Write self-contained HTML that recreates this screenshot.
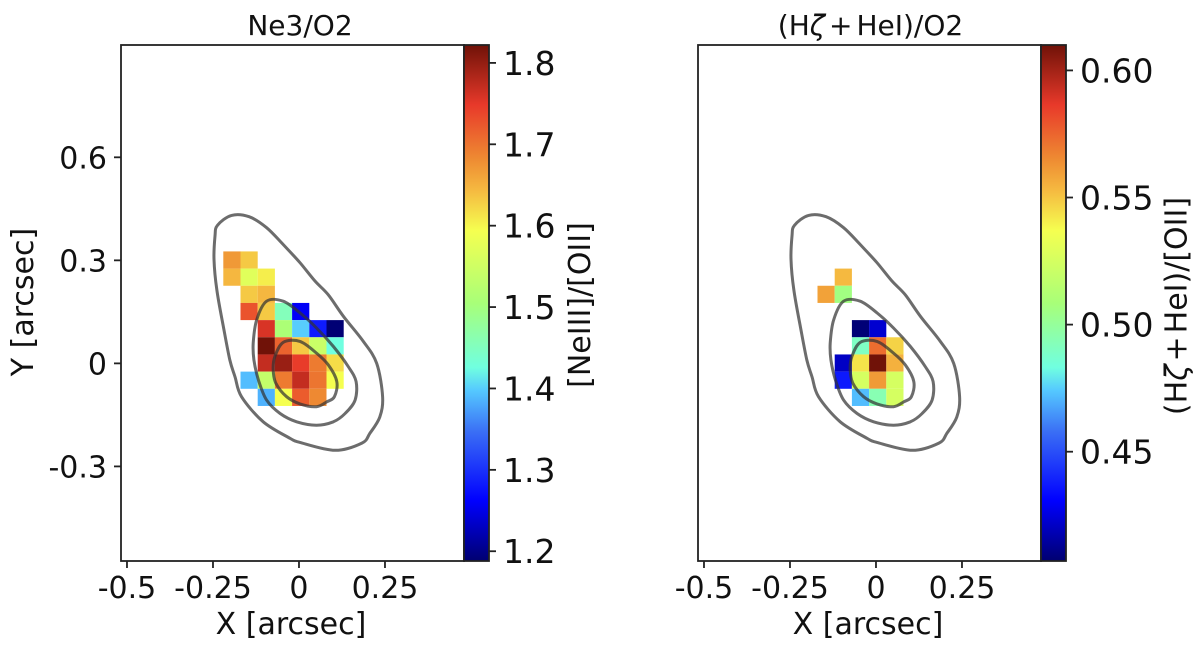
<!DOCTYPE html>
<html lang="en">
<head>
<meta charset="utf-8">
<title>Ne3/O2 and (Hζ+HeI)/O2 maps</title>
<style>
html,body{margin:0;padding:0;background:#fff;width:1200px;height:649px;overflow:hidden}
svg{display:block}
text{font-family:"DejaVu Sans","Liberation Sans",sans-serif;fill:#111}
</style>
</head>
<body>
<svg id="chart" xmlns="http://www.w3.org/2000/svg" width="1200" height="649" viewBox="0 0 1200 649"></svg>
<script>
const xTicks = [-0.5, -0.25, 0, 0.25];
const xTickLabels = ['-0.5', '-0.25', '0', '0.25'];
const yTicks = [0.6, 0.3, 0, -0.3];
const yTickLabels = ['0.6', '0.3', '0', '-0.3'];
const neTicks = [1.2, 1.3, 1.4, 1.5, 1.6, 1.7, 1.8];
const neTickLabels = ['1.2', '1.3', '1.4', '1.5', '1.6', '1.7', '1.8'];
const hzTicks = [0.45, 0.50, 0.55, 0.60];
const hzTickLabels = ['0.45', '0.50', '0.55', '0.60'];
const xBinEdges = [-0.22, -0.17, -0.12, -0.07, -0.02, 0.03, 0.08, 0.13];
const yBinEdges = [0.326, 0.276, 0.226, 0.176, 0.126, 0.076, 0.026, -0.024, -0.074, -0.124];
const n = null;
const ne3Values = [
  [1.67, 1.632, n, n, n, n, n],
  [1.645, 1.57, 1.606, n, n, n, n],
  [n, 1.632, 1.645, n, n, n, n],
  [n, 1.727, 1.632, 1.454, 1.258, n, n],
  [n, n, 1.758, 1.51, 1.40, 1.283, 1.19],
  [n, n, 1.822, 1.714, 1.632, 1.543, 1.426],
  [n, n, 1.771, 1.797, 1.746, 1.695, 1.619],
  [n, 1.391, 1.537, 1.695, 1.771, 1.70, 1.594],
  [n, n, 1.385, 1.594, 1.72, 1.683, n]
];
const hzetaValues = [
  [n, n, n, n, n, n, n],
  [n, n, 0.553, n, n, n, n],
  [n, 0.559, 0.506, n, n, n, n],
  [n, n, n, n, n, n, n],
  [n, n, n, 0.408, 0.423, n, n],
  [n, n, n, 0.490, 0.573, 0.547, n],
  [n, n, 0.421, 0.543, 0.61, 0.555, n],
  [n, n, 0.437, 0.525, 0.561, 0.525, n],
  [n, n, n, 0.472, 0.494, 0.525, n]
];
const contourOuterX = [-0.237,-0.196,-0.145,-0.094,-0.046,0.003,0.047,0.085,0.129,0.187,0.226,0.243,0.235,0.206,0.183,0.105,0.003,-0.026,-0.104,-0.167,-0.186,-0.201,-0.220,-0.239,-0.247,-0.244];
const contourOuterY = [0.402,0.431,0.427,0.395,0.346,0.293,0.239,0.200,0.137,0.064,0.000,-0.097,-0.156,-0.204,-0.232,-0.253,-0.230,-0.218,-0.170,-0.097,-0.039,0.010,0.108,0.215,0.303,0.371];
const contourMiddleX = [-0.094,-0.046,0.003,0.051,0.100,0.143,0.166,0.163,0.134,0.100,0.051,-0.007,-0.055,-0.094,-0.118,-0.131,-0.133,-0.123];
const contourMiddleY = [0.181,0.181,0.147,0.103,0.049,-0.009,-0.053,-0.107,-0.146,-0.170,-0.180,-0.170,-0.146,-0.107,-0.048,0.010,0.059,0.127];
const contourInnerX = [-0.046,0.003,0.051,0.085,0.110,0.103,0.081,0.051,0.003,-0.036,-0.067,-0.075,-0.070];
const contourInnerY = [0.061,0.064,0.030,-0.004,-0.053,-0.097,-0.112,-0.126,-0.118,-0.097,-0.058,-0.019,0.020];
const colorStopPos = [0, 0.117, 0.25, 0.33, 0.375, 0.5, 0.64, 0.72, 0.78, 0.884, 1];
const colorStopHex = ['#000070', '#0000ff', '#3a6ef5', '#55c8ff', '#70ffe0', '#a8ff78', '#f5ff50', '#f5b840', '#ee8a32', '#e8392a', '#701208'];

const NS = 'http://www.w3.org/2000/svg';
const svg = document.getElementById('chart');
const defs = document.createElementNS(NS, 'defs');
svg.appendChild(defs);

function make(tag, attrs, parent) {
  const el = document.createElementNS(NS, tag);
  for (const k in attrs) el.setAttribute(k, attrs[k]);
  parent.appendChild(el);
  return el;
}
function hexRgb(h) {
  return [1, 3, 5].map(i => parseInt(h.substr(i, 2), 16));
}
function colormap(t) {
  t = Math.max(0, Math.min(1, t));
  for (let i = 1; i < colorStopPos.length; i++) {
    if (t <= colorStopPos[i]) {
      const f = (t - colorStopPos[i - 1]) / (colorStopPos[i] - colorStopPos[i - 1]);
      const a = hexRgb(colorStopHex[i - 1]);
      const b = hexRgb(colorStopHex[i]);
      return 'rgb(' + a.map((v, j) => Math.round(v + (b[j] - v) * f)).join(',') + ')';
    }
  }
  return colorStopHex[colorStopHex.length - 1];
}
function linear(d0, d1, r0, r1) {
  return v => r0 + (v - d0) * (r1 - r0) / (d1 - d0);
}
function smoothClosedPath(px, py) {
  const m = px.length;
  let d = 'M' + px[0].toFixed(1) + ' ' + py[0].toFixed(1);
  for (let i = 0; i < m; i++) {
    const p0 = (i - 1 + m) % m, p1 = i, p2 = (i + 1) % m, p3 = (i + 2) % m;
    const c1x = px[p1] + (px[p2] - px[p0]) / 6;
    const c1y = py[p1] + (py[p2] - py[p0]) / 6;
    const c2x = px[p2] - (px[p3] - px[p1]) / 6;
    const c2y = py[p2] - (py[p3] - py[p1]) / 6;
    d += 'C' + c1x.toFixed(1) + ' ' + c1y.toFixed(1) + ' ' + c2x.toFixed(1) + ' ' + c2y.toFixed(1) + ' ' + px[p2].toFixed(1) + ' ' + py[p2].toFixed(1);
  }
  return d + 'Z';
}

const TOP = 45, BOTTOM = 561, AXW = 343, CBW = 25;
const INK = '#222';

function drawPanel(cfg) {
  const g = make('g', {}, svg);
  
  
  const L = cfg.left, R = L + AXW;
  const xs = linear(-0.5174, 0.4797, L, R);
  const ys = linear(-0.5754, 0.927, BOTTOM, TOP);
  const cs = linear(cfg.vmin, cfg.vmax, BOTTOM, TOP);

  const cells = make('g', {}, g);
  
  
  cfg.values.forEach((row, r) => {
    row.forEach((v, c) => {
      if (v === null) return;
      const x0 = xs(xBinEdges[c]);
      const x1 = xs(xBinEdges[c + 1]);
      const y0 = ys(yBinEdges[r]);
      const y1 = ys(yBinEdges[r + 1]);
      const cell = make('rect', {x: x0, y: y0, width: x1 - x0, height: y1 - y0, fill: colormap((v - cfg.vmin) / (cfg.vmax - cfg.vmin))}, cells);
      
      
    });
  });

  const contours = make('g', {}, g);
  
  
  [[contourOuterX, contourOuterY], [contourMiddleX, contourMiddleY], [contourInnerX, contourInnerY]].forEach(pair => {
    const d = smoothClosedPath(pair[0].map(xs), pair[1].map(ys));
    const path = make('path', {d: d, fill: 'none', stroke: '#333', 'stroke-opacity': 0.72, 'stroke-width': 3, 'stroke-linejoin': 'round'}, contours);
    
    
  });

  const frame = make('rect', {x: L, y: TOP, width: AXW, height: BOTTOM - TOP, fill: 'none', stroke: INK, 'stroke-width': 1.8}, g);
  
  

  xTicks.forEach((v, i) => {
    const x = xs(v);
    const tick = make('line', {x1: x, x2: x, y1: BOTTOM, y2: BOTTOM + 7, stroke: INK, 'stroke-width': 1.8}, g);
    
    
    const label = make('text', {x: x, y: 598, 'text-anchor': 'middle', 'font-size': 30}, g);
    label.textContent = xTickLabels[i];
    
    
  });
  const xTitle = make('text', {x: xs(0) - 8, y: 634, 'text-anchor': 'middle', 'font-size': 30}, g);
  xTitle.textContent = 'X [arcsec]';
  
  

  if (cfg.showY) {
    yTicks.forEach((v, i) => {
      const y = ys(v);
      const tick = make('line', {x1: L - 7, x2: L, y1: y, y2: y, stroke: INK, 'stroke-width': 1.8}, g);
      
      
      const label = make('text', {x: 107, y: y + 11, 'text-anchor': 'end', 'font-size': 30}, g);
      label.textContent = yTickLabels[i];
      
      
    });
    const yTitle = make('text', {x: 0, y: 0, transform: 'translate(33 302) rotate(-90)', 'text-anchor': 'middle', 'font-size': 30}, g);
    yTitle.textContent = 'Y [arcsec]';
    
    
  }

  const title = make('text', {x: cfg.titleX, y: 35, 'text-anchor': 'middle', 'font-size': 28}, g);
  title.innerHTML = cfg.title;
  
  

  const gradId = 'grad-' + cfg.name;
  const grad = make('linearGradient', {id: gradId, x1: 0, y1: 1, x2: 0, y2: 0}, defs);
  colorStopPos.forEach((p, i) => {
    make('stop', {offset: p, 'stop-color': colorStopHex[i]}, grad);
  });
  const bar = make('rect', {x: R, y: TOP, width: CBW, height: BOTTOM - TOP, fill: 'url(#' + gradId + ')', stroke: INK, 'stroke-width': 1.8}, g);
  
  

  cfg.ticks.forEach((v, i) => {
    const y = cs(v);
    const tick = make('line', {x1: R + CBW, x2: R + CBW + 7, y1: y, y2: y, stroke: INK, 'stroke-width': 1.8}, g);
    
    
    const label = make('text', {x: R + CBW + 14, y: y + 12, 'font-size': 33}, g);
    label.textContent = cfg.tickLabels[i];
    
    
  });

  const cbTitle = make('text', {x: 0, y: 0, transform: 'translate(' + cfg.cbTitleX + ' ' + cfg.cbTitleY + ') rotate(-90)', 'text-anchor': 'middle', 'font-size': 30}, g);
  cbTitle.innerHTML = cfg.cbTitle;
  
  
}

drawPanel({
  name: 'ne3-o2', left: 121, values: ne3Values, vmin: 1.188, vmax: 1.822,
  ticks: neTicks, tickLabels: neTickLabels, showY: true,
  title: 'Ne3/O2', titleX: 300,
  cbTitle: '[NeIII]/[OII]', cbTitleX: 590, cbTitleY: 305
});
drawPanel({
  name: 'hzeta-hei-o2', left: 698, values: hzetaValues, vmin: 0.407, vmax: 0.61,
  ticks: hzTicks, tickLabels: hzTickLabels, showY: false,
  title: '(H<tspan font-style="italic">ζ</tspan><tspan dx="4">+</tspan><tspan dx="4">HeI)/O2</tspan>', titleX: 870.5,
  cbTitle: '(H<tspan font-style="italic">ζ</tspan><tspan dx="3">+</tspan><tspan dx="3">HeI)/[OII]</tspan>', cbTitleX: 1186.5, cbTitleY: 306
});
</script>
</body>
</html>
